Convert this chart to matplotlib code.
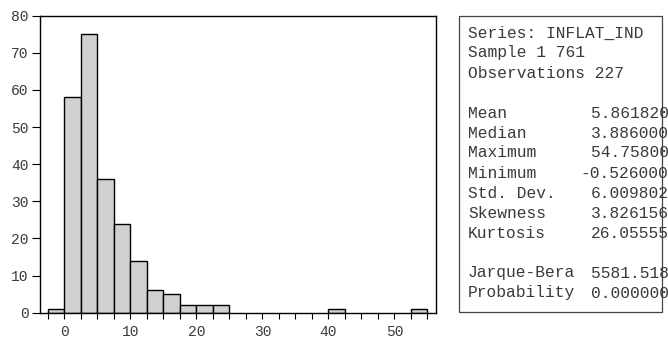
import numpy as np
import matplotlib
matplotlib.use("Agg")
import matplotlib.pyplot as plt
from matplotlib.patches import Rectangle

# histogram of INFLAT_IND, bins of width 2.5
bin_left = [-2.5, 0, 2.5, 5, 7.5, 10, 12.5, 15, 17.5, 20, 22.5, 40, 52.5]
counts = [1, 58, 75, 36, 24, 14, 6, 5, 2, 2, 2, 1, 1]
bin_width = 2.5

x_ticks = [0, 10, 20, 30, 40, 50]
y_ticks = [0, 10, 20, 30, 40, 50, 60, 70, 80]

stats_header = ["Series: INFLAT_IND", "Sample 1 761", "Observations 227"]
stat_names = ["Mean", "Median", "Maximum", "Minimum", "Std. Dev.", "Skewness", "Kurtosis"]
stat_values = ["5.861820", "3.886000", "54.75800", "-0.526000", "6.009802", "3.826156", "26.05555"]
test_names = ["Jarque-Bera", "Probability"]
test_values = ["5581.518", "0.000000"]

plt.rcParams['font.family'] = ['Liberation Mono', 'DejaVu Sans Mono']
txt_color = '#3a3a3a'

W, H = 668, 343
fig = plt.figure(figsize=(W / 100, H / 100), dpi=100)
ax = fig.add_axes([39.5 / W, 1 - 312.7 / H, (435.7 - 39.5) / W, (312.7 - 15.7) / H])

ax.bar(bin_left, counts, width=bin_width, align='edge', color='#d0d0d0',
       edgecolor='black', linewidth=1.0)

ax.set_xlim(-3.75, 56.25)
ax.set_ylim(0, 80)
ax.set_xticks(x_ticks)
ax.set_xticks(np.arange(-2.5, 55.1, 2.5), minor=True)
ax.set_yticks(y_ticks)
ax.tick_params(axis='x', which='both', direction='out', length=4, width=0.8,
               labelsize=10.5, labelcolor=txt_color, pad=5)
ax.tick_params(axis='y', direction='out', length=6, width=0.8,
               labelsize=10.5, labelcolor=txt_color, pad=2)
for s in ax.spines.values():
    s.set_linewidth(1.0)

# descriptive statistics panel
fig.patches.append(Rectangle((459.3 / W, 1 - 311.7 / H), (661.7 - 459.3) / W,
                             (311.7 - 16.3) / H, transform=fig.transFigure,
                             fill=False, edgecolor='#444444', linewidth=0.9))

x_lab = 468 / W
x_val = 668.5 / W
row0 = 33.0
step = 20.0
fs = 11.7


def row_y(i):
    return 1 - (row0 + i * step) / H


for i, t in enumerate(stats_header):
    fig.text(x_lab, row_y(i), t, fontsize=fs, color=txt_color, va='center')
for i, (n, v) in enumerate(zip(stat_names, stat_values)):
    fig.text(x_lab, row_y(i + 4), n, fontsize=fs, color=txt_color, va='center')
    fig.text(x_val, row_y(i + 4), v, fontsize=fs, color=txt_color, va='center', ha='right')
for i, (n, v) in enumerate(zip(test_names, test_values)):
    fig.text(x_lab, row_y(i + 12), n, fontsize=fs, color=txt_color, va='center')
    fig.text(x_val, row_y(i + 12), v, fontsize=fs, color=txt_color, va='center', ha='right')

fig.savefig("out.png", dpi=100)
